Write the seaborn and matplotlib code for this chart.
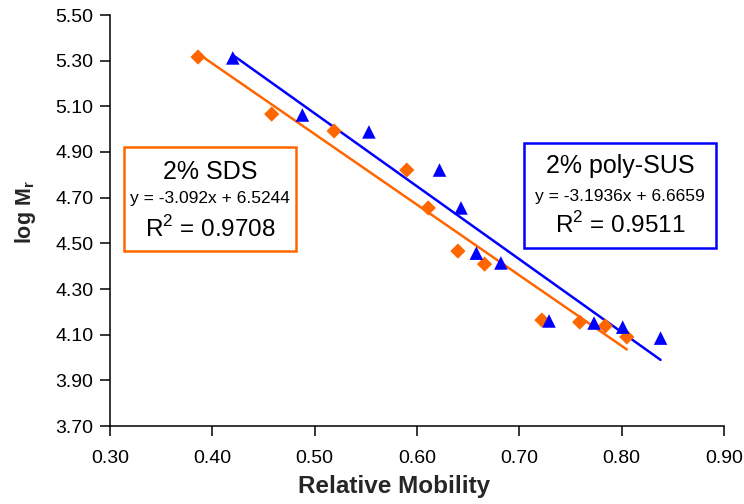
import matplotlib
matplotlib.use("Agg")
import matplotlib.pyplot as plt
import seaborn as sns
import numpy as np
import pandas as pd
from matplotlib.patches import Rectangle

# ---- data ----
sds_mobility = [0.386, 0.458, 0.519, 0.590, 0.611, 0.640, 0.666, 0.722, 0.759, 0.784, 0.805]
sds_logmr    = [5.316, 5.066, 4.992, 4.821, 4.655, 4.466, 4.409, 4.164, 4.155, 4.138, 4.090]

sus_mobility = [0.420, 0.488, 0.553, 0.622, 0.643, 0.658, 0.682, 0.729, 0.773, 0.801, 0.838]
sus_logmr    = [5.312, 5.062, 4.988, 4.821, 4.655, 4.457, 4.414, 4.160, 4.151, 4.133, 4.085]

sds_fit = (-3.092, 6.5244)
sus_fit = (-3.1936, 6.6659)

sds_label = ["2% SDS", "y = -3.092x + 6.5244", "R$^2$ = 0.9708"]
sus_label = ["2% poly-SUS", "y = -3.1936x + 6.6659", "R$^2$ = 0.9511"]

x_ticks = [0.30, 0.40, 0.50, 0.60, 0.70, 0.80, 0.90]
y_ticks = [3.70, 3.90, 4.10, 4.30, 4.50, 4.70, 4.90, 5.10, 5.30, 5.50]

ORANGE = "#FF6600"
BLUE = "#0000FF"

sns.set_style("ticks")
plt.rcParams["font.family"] = ["Liberation Sans", "DejaVu Sans"]
plt.rcParams["mathtext.fontset"] = "custom"
plt.rcParams["mathtext.rm"] = "Liberation Sans"
plt.rcParams["mathtext.bf"] = "Liberation Sans:bold"

W, H = 744, 504
fig = plt.figure(figsize=(W / 100, H / 100), dpi=100)
L, R, T, B = 110, 724, 15, 426
ax = fig.add_axes([L / W, 1 - B / H, (R - L) / W, (B - T) / H])

sds = pd.DataFrame({"x": sds_mobility, "y": sds_logmr})
sus = pd.DataFrame({"x": sus_mobility, "y": sus_logmr})

# fit lines
def fit_df(df, coef):
    xs = np.array([df["x"].min(), df["x"].max()])
    return pd.DataFrame({"x": xs, "y": coef[0] * xs + coef[1]})

sns.lineplot(data=fit_df(sds, sds_fit), x="x", y="y", color=ORANGE, lw=1.8, ax=ax)
sns.lineplot(data=fit_df(sus, sus_fit), x="x", y="y", color=BLUE, lw=1.8, ax=ax)

sns.scatterplot(data=sds, x="x", y="y", marker="D", s=60, color=ORANGE,
                edgecolor="none", ax=ax, zorder=3)
sns.scatterplot(data=sus, x="x", y="y", marker="^", s=95, color=BLUE,
                edgecolor="none", ax=ax, zorder=3)

ax.set_xlim(0.30, 0.90)
ax.set_ylim(3.70, 5.50)
ax.set_xticks(x_ticks)
ax.set_yticks(y_ticks)
ax.set_xticklabels([f"{v:.2f}" for v in x_ticks])
ax.set_yticklabels([f"{v:.2f}" for v in y_ticks])
ax.tick_params(axis="both", direction="out", length=7, width=1.1, color="black",
               labelsize=14, labelcolor="black")
ax.tick_params(axis="x", pad=10)
ax.tick_params(axis="y", pad=5)
for s in ["top", "right"]:
    ax.spines[s].set_visible(False)
for s in ["left", "bottom"]:
    ax.spines[s].set_color("black")
    ax.spines[s].set_linewidth(1.1)

ax.set_xlabel("Relative Mobility", fontsize=17.5, fontweight="bold")
ax.xaxis.set_label_coords((394 - L) / (R - L), (B - 486) / (B - T))
ax.xaxis.label.set_va("center")
ax.set_ylabel(r"log M$_\mathbf{r}$", fontsize=15.5, fontweight="bold")
ax.yaxis.set_label_coords((26 - L) / (R - L), (B - 212) / (B - T))
ax.yaxis.label.set_va("center")

# annotation boxes (figure pixel coordinates)
def fx(px):
    return px / W

def fy(py):
    return 1 - py / H

def add_box(x0, y0, x1, y1, color, lines, ys):
    fig.add_artist(Rectangle((fx(x0), fy(y1)), fx(x1) - fx(x0), fy(y0) - fy(y1),
                             transform=fig.transFigure, fill=True, facecolor="white",
                             edgecolor=color, lw=1.8, zorder=5))
    cx = fx((x0 + x1) / 2)
    sizes = [18, 12.5, 17.5]
    for txt, yy, sz in zip(lines, ys, sizes):
        fig.text(cx, fy(yy), txt, ha="center", va="center", fontsize=sz,
                 color="black", zorder=6)

add_box(124, 147, 296, 251, ORANGE, sds_label, [172, 199, 229])
add_box(524, 143, 716, 248, BLUE, sus_label, [166, 196, 225])

fig.savefig("out.png", dpi=100)
